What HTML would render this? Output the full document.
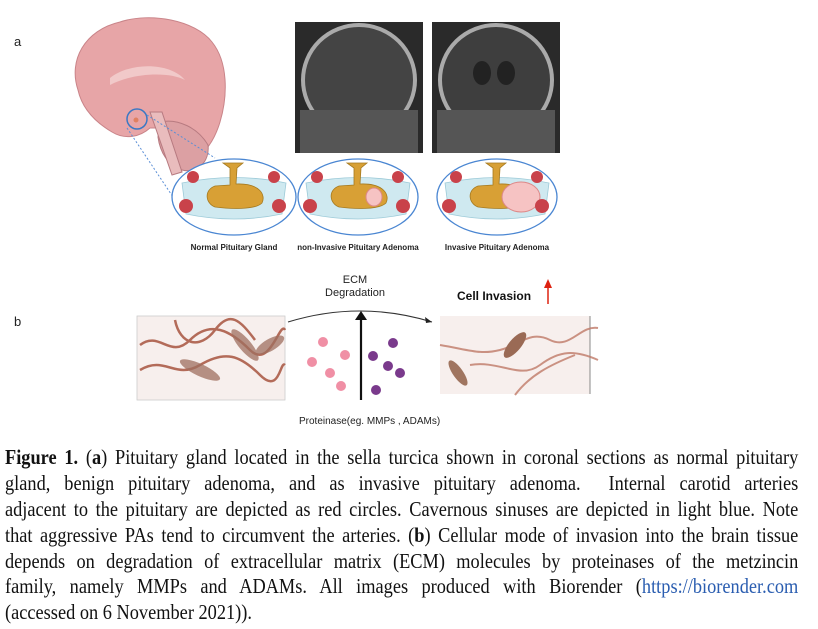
<!DOCTYPE html>
<html><head><meta charset="utf-8"><style>
body{margin:0;width:818px;height:629px;background:#fff;position:relative;overflow:hidden;font-family:"Liberation Sans",sans-serif}
.cap{position:absolute;left:5px;top:445px;font-family:"Liberation Serif",serif;font-size:21.5px;line-height:25.9px;color:#111}
.cap div{width:930px;transform:scaleX(0.853);transform-origin:0 0;text-align:justify;text-align-last:justify;white-space:normal;height:25.9px}
.cap div.last{text-align-last:left}
.lbl{position:absolute;font-size:8px;font-weight:bold;color:#222;white-space:nowrap;transform:translateX(-50%)}
</style></head><body>
<svg width="818" height="440" style="position:absolute;left:0;top:0" font-family="Liberation Sans, sans-serif">
<text x="14" y="46" font-size="13" fill="#222">a</text>
<text x="14" y="326" font-size="13" fill="#222">b</text>
<path d="M78,90 C68,60 85,30 120,22 C150,12 195,20 212,42 C228,62 228,95 220,122 C214,142 205,152 195,160 L185,148 C180,138 170,132 160,128 L150,128 C140,137 125,140 112,132 C95,122 82,108 78,90 Z" fill="#e7a5a7" stroke="#c98489" stroke-width="1"/>
<path d="M160,122 C178,118 198,128 208,145 C210,162 197,174 182,170 C168,166 160,152 158,137 Z" fill="#dca0a3" stroke="#b77a80"/>
<path d="M150,112 L162,112 L182,172 L172,175 Z" fill="#e9bcbd" stroke="#b77a80"/>
<path d="M110,78 C130,62 170,62 185,80 C170,72 135,72 110,85 Z" fill="#f1c9c9"/>
<circle cx="137" cy="119" r="10" fill="none" stroke="#3b78c4" stroke-width="1.5"/>
<circle cx="136" cy="120" r="2.5" fill="#e08060"/>
<line x1="127" y1="128" x2="175" y2="200" stroke="#5b8fd6" stroke-dasharray="2,2"/>
<line x1="147" y1="115" x2="215" y2="158" stroke="#5b8fd6" stroke-dasharray="2,2"/>
<rect x="295" y="22" width="128" height="131" fill="#2a2a2a"/>
<ellipse cx="359" cy="80" rx="56" ry="55" fill="#444" stroke="#aaa" stroke-width="4"/>
<rect x="300" y="110" width="118" height="43" fill="#555"/>
<rect x="432" y="22" width="128" height="131" fill="#2a2a2a"/>
<ellipse cx="496" cy="80" rx="56" ry="55" fill="#3e3e3e" stroke="#aaa" stroke-width="4"/>
<rect x="437" y="110" width="118" height="43" fill="#555"/>
<ellipse cx="482" cy="73" rx="9" ry="12" fill="#222"/><ellipse cx="506" cy="73" rx="9" ry="12" fill="#222"/>
<g>
<ellipse cx="234" cy="197" rx="62" ry="38" fill="#fff" stroke="#4a86d2" stroke-width="1.3"/>
<path d="M182,183 Q234,172 286,183 L282,214 Q234,224 186,214 Z" fill="#cfe9f0" stroke="#9ccad8" stroke-width="0.8"/>
<path d="M223,163 L243,163 L237,168 L236,184 C260,183 266,195 262,203 C255,210 230,209 215,207 C205,203 204,190 215,186 L230,185 L230,168 Z" fill="#d8a035" stroke="#a57a20" stroke-width="0.8"/>
<circle cx="193" cy="177" r="6" fill="#c9424a"/><circle cx="274" cy="177" r="6" fill="#c9424a"/>
<circle cx="186" cy="206" r="7" fill="#c9424a"/><circle cx="279" cy="206" r="7" fill="#c9424a"/>
</g>
<g transform="translate(124,0)">
<ellipse cx="234" cy="197" rx="60" ry="38" fill="#fff" stroke="#4a86d2" stroke-width="1.3"/>
<path d="M182,183 Q234,172 286,183 L282,214 Q234,224 186,214 Z" fill="#cfe9f0" stroke="#9ccad8" stroke-width="0.8"/>
<path d="M223,163 L243,163 L237,168 L236,184 C260,183 266,195 262,203 C255,210 230,209 215,207 C205,203 204,190 215,186 L230,185 L230,168 Z" fill="#d8a035" stroke="#a57a20" stroke-width="0.8"/>
<ellipse cx="250" cy="197" rx="8" ry="9" fill="#f6c3c3" stroke="#d88"/>
<circle cx="193" cy="177" r="6" fill="#c9424a"/><circle cx="274" cy="177" r="6" fill="#c9424a"/>
<circle cx="186" cy="206" r="7" fill="#c9424a"/><circle cx="279" cy="206" r="7" fill="#c9424a"/>
</g>
<g transform="translate(263,0)">
<ellipse cx="234" cy="197" rx="60" ry="38" fill="#fff" stroke="#4a86d2" stroke-width="1.3"/>
<path d="M182,183 Q234,172 286,183 L282,214 Q234,224 186,214 Z" fill="#cfe9f0" stroke="#9ccad8" stroke-width="0.8"/>
<path d="M223,163 L243,163 L237,168 L236,184 C260,183 266,195 262,203 C255,210 230,209 215,207 C205,203 204,190 215,186 L230,185 L230,168 Z" fill="#d8a035" stroke="#a57a20" stroke-width="0.8"/>
<ellipse cx="258" cy="197" rx="19" ry="15" fill="#f6c3c3" stroke="#d88"/>
<circle cx="193" cy="177" r="6" fill="#c9424a"/><circle cx="274" cy="177" r="6" fill="#c9424a"/>
<circle cx="186" cy="206" r="7" fill="#c9424a"/><circle cx="279" cy="206" r="7" fill="#c9424a"/>
</g>
<rect x="137" y="316" width="148" height="84" fill="#f7efed" stroke="#ccc" stroke-width="0.8"/>
<g stroke="#a85540" stroke-width="2.5" fill="none" opacity="0.85">
<path d="M140,345 C160,330 170,360 190,340 S230,330 250,350 280,320 285,330"/>
<path d="M140,370 C165,355 175,380 200,365 S240,355 260,375 280,360 285,365"/>
<path d="M175,320 C180,345 200,350 215,330 S240,320 255,340"/>
</g>
<g fill="#a07060" opacity="0.75">
<ellipse cx="200" cy="370" rx="22" ry="6" transform="rotate(25 200 370)"/>
<ellipse cx="245" cy="345" rx="20" ry="6" transform="rotate(50 245 345)"/>
<ellipse cx="270" cy="345" rx="16" ry="6" transform="rotate(-30 270 345)"/>
</g>
<rect x="440" y="316" width="150" height="78" fill="#f7efed"/>
<line x1="590" y1="316" x2="590" y2="394" stroke="#888"/>
<g stroke="#c07a68" stroke-width="2" fill="none" opacity="0.8">
<path d="M440,345 C470,350 480,355 500,350 S530,330 550,340 580,325 598,328"/>
<path d="M470,365 C500,360 520,380 540,365 S575,350 598,360"/>
<path d="M515,395 C530,375 550,365 575,355"/>
</g>
<ellipse cx="515" cy="345" rx="16" ry="6" transform="rotate(-50 515 345)" fill="#9a6a55"/>
<ellipse cx="458" cy="373" rx="15" ry="5" transform="rotate(55 458 373)" fill="#a07560"/>
<path d="M288,322 Q360,300 432,322" fill="none" stroke="#333" stroke-width="1"/>
<path d="M432,322 l-7,-5 l1,6 z" fill="#222"/>
<line x1="361" y1="400" x2="361" y2="316" stroke="#111" stroke-width="2.2"/>
<path d="M355,320 L361,311 L367,320 Z" fill="#111"/>
<text x="355" y="283" font-size="11" text-anchor="middle" fill="#222">ECM</text>
<text x="355" y="296" font-size="11" text-anchor="middle" fill="#222">Degradation</text>
<text x="457" y="300" font-size="12" font-weight="bold" fill="#111">Cell Invasion</text>
<line x1="548" y1="304" x2="548" y2="286" stroke="#d21" stroke-width="1.5"/>
<path d="M544,288 L548,279 L552,288 Z" fill="#d21"/>
<g fill="#f08fa5"><circle cx="323" cy="342" r="5"/><circle cx="345" cy="355" r="5"/><circle cx="312" cy="362" r="5"/><circle cx="330" cy="373" r="5"/><circle cx="341" cy="386" r="5"/></g>
<g fill="#7a3a8c"><circle cx="393" cy="343" r="5"/><circle cx="373" cy="356" r="5"/><circle cx="388" cy="366" r="5"/><circle cx="400" cy="373" r="5"/><circle cx="376" cy="390" r="5"/></g>
<text x="299" y="424" font-size="10" fill="#222">Proteinase(eg. MMPs , ADAMs)</text>
</svg>
<div class="lbl" style="left:234px;top:243px">Normal Pituitary Gland</div>
<div class="lbl" style="left:358px;top:243px">non-Invasive Pituitary Adenoma</div>
<div class="lbl" style="left:497px;top:243px">Invasive Pituitary Adenoma</div>
<div class="cap">
<div><b>Figure 1.</b> (<b>a</b>) Pituitary gland located in the sella turcica shown in coronal sections as normal pituitary</div>
<div>gland, benign pituitary adenoma, and as invasive pituitary adenoma. &nbsp;Internal carotid arteries</div>
<div>adjacent to the pituitary are depicted as red circles. Cavernous sinuses are depicted in light blue. Note</div>
<div>that aggressive PAs tend to circumvent the arteries. (<b>b</b>) Cellular mode of invasion into the brain tissue</div>
<div>depends on degradation of extracellular matrix (ECM) molecules by proteinases of the metzincin</div>
<div>family, namely MMPs and ADAMs. All images produced with Biorender (<span style="color:#2a5db0">https://biorender.com</span></div>
<div class="last">(accessed on 6 November 2021)).</div>
</div>
</body></html>
